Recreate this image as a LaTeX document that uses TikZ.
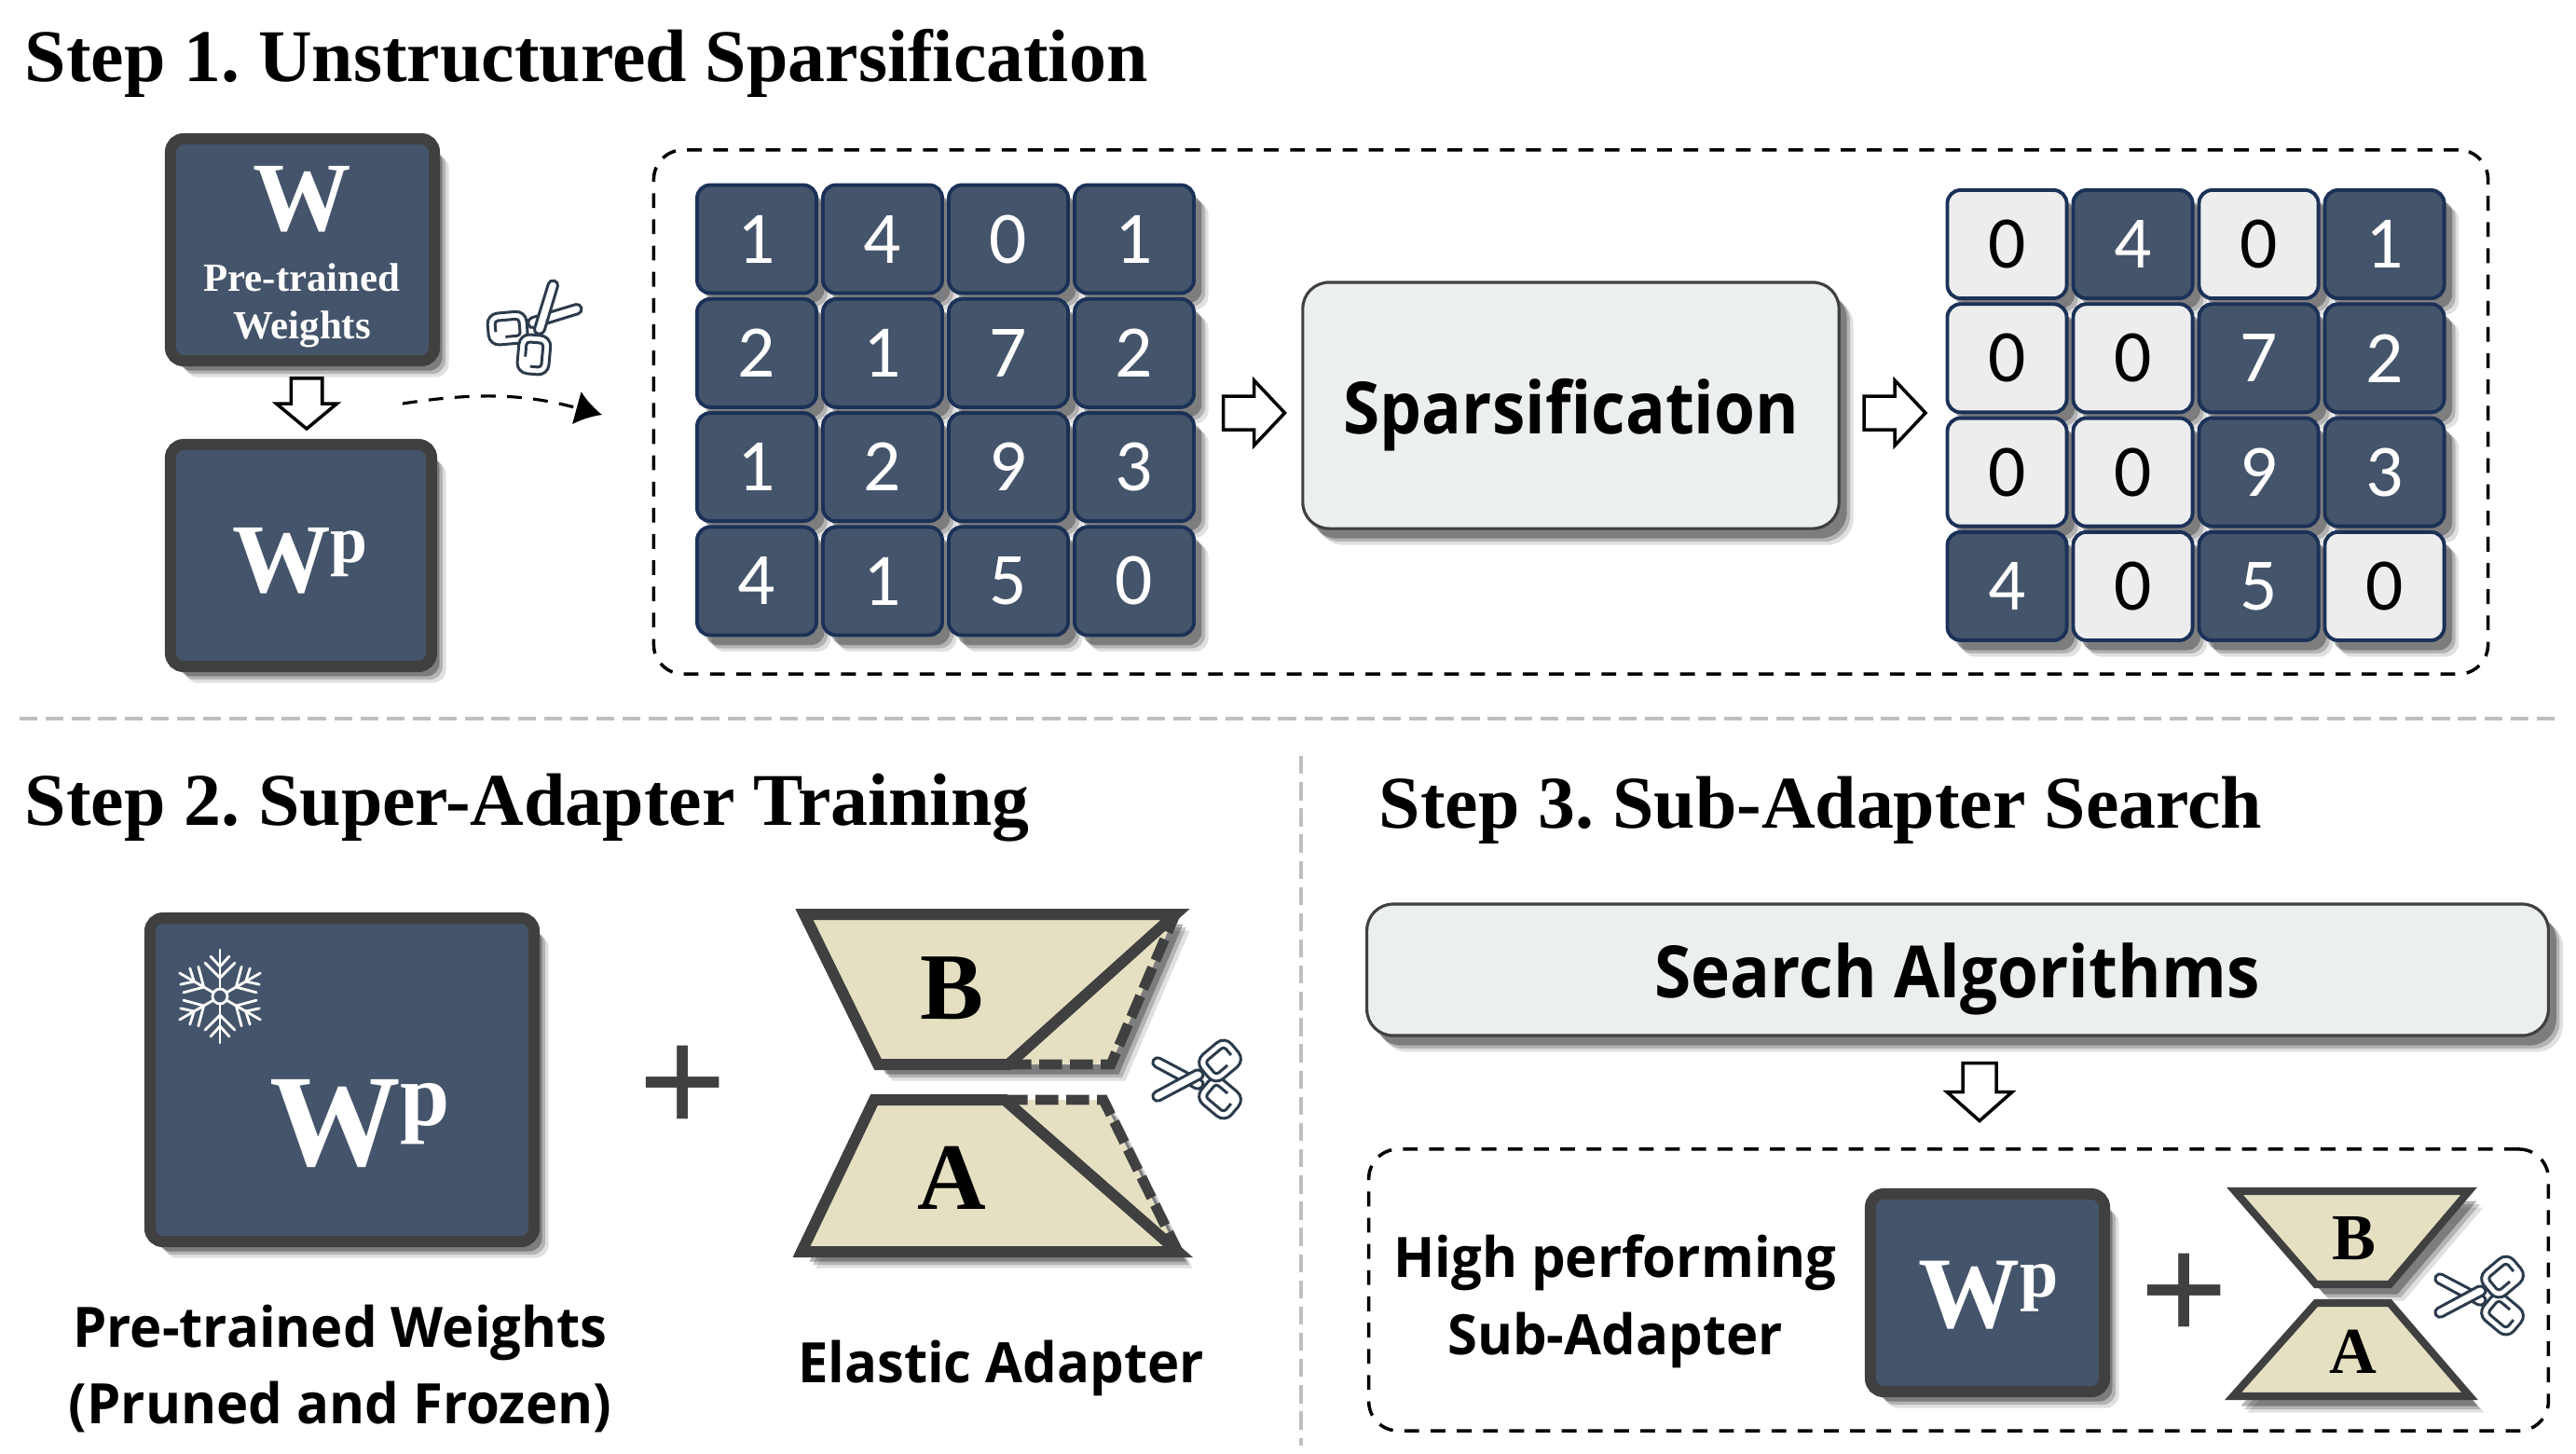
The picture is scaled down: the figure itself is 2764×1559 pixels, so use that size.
\documentclass[tikz,border=0pt]{standalone}
\usepackage{fontspec}
\usepackage{graphicx}
\setmainfont{Liberation Serif}
\newfontfamily\digitfont{Carlito}
\newfontfamily\labelfont[FakeStretch=.97]{Open Sans}
\newfontfamily\panelfont[FakeStretch=.92]{Open Sans}
\frenchspacing
\usetikzlibrary{arrows.meta,positioning,calc,shadows}
\definecolor{slatefill}{HTML}{44546A}
\definecolor{slateedge}{HTML}{1B3157}
\definecolor{boxedge}{HTML}{404040}
\definecolor{lightcell}{HTML}{EDEDED}
\definecolor{panelfill}{HTML}{ECEFF0}
\definecolor{adapterfill}{HTML}{E5E0C2}
\definecolor{iconedge}{HTML}{2C3B4B}
\definecolor{sepgray}{HTML}{BFBFBF}
\newcommand{\wpmark}{W\raisebox{.3em}{\scalebox{.68}{p}}}
\tikzset{
  softshadow/.style={
    drop shadow={shadow xshift=4.4pt, shadow yshift=-5pt, opacity=.12, fill=black},
    drop shadow={shadow xshift=3.4pt, shadow yshift=-4pt, opacity=.2, fill=black},
    drop shadow={shadow xshift=2.4pt, shadow yshift=-3pt, opacity=.3, fill=black},
  },
  weightbox/.style={draw=boxedge, fill=slatefill, line width=3.4pt, rounded corners=4pt, softshadow, inner sep=0pt},
  panelbox/.style={draw=boxedge, fill=panelfill, line width=.9pt, rounded corners=8pt, softshadow, inner sep=0pt},
  cellbase/.style={rounded corners=4pt, line width=1.1pt, draw=slateedge, minimum width=1.28cm, minimum height=1.16cm,
    inner sep=0pt, softshadow, font=\digitfont\fontsize{22.6}{24}\selectfont},
  darkcell/.style={cellbase, fill=slatefill, text=white},
  palecell/.style={cellbase, fill=lightcell, text=black},
  groupbox/.style={draw=black, line width=1pt, rounded corners=9pt, dash pattern=on 4.5pt off 3.5pt},
  sepline/.style={draw=sepgray, line width=1pt, dash pattern=on 5.5pt off 2.5pt},
  steptitle/.style={anchor=base west, inner sep=0pt, font=\bfseries\fontsize{22.7}{26}\selectfont},
  labeltext/.style={anchor=base, inner sep=0pt, font=\labelfont\bfseries\fontsize{17}{20}\selectfont},
  paneltext/.style={anchor=base, inner sep=0pt, font=\panelfont\bfseries\fontsize{22}{26}\selectfont},
  whitetext/.style={anchor=base, inner sep=0pt, text=white, font=\bfseries},
  adaptertext/.style={anchor=base, inner sep=0pt, font=\bfseries},
  plustext/.style={inner sep=0pt, text=boxedge, font=\bfseries\fontsize{48}{50}\selectfont},
  trapfill/.style={fill=adapterfill, softshadow},
  trapline/.style={draw=boxedge, line join=miter},
  iconline/.style={draw=iconedge, fill=white, line width=.85pt, line join=round},
  blockarrow/.pic={
    \draw[draw=black, fill=white, line width=1pt, line join=miter]
      (-33,-18) -- (0,-18) -- (0,-35) -- (33,0) -- (0,35) -- (0,18) -- (-33,18) -- cycle;
  },
  scissorsicon/.pic={
    \foreach \s in {1,-1} {
      \begin{scope}[yscale=\s]
        \draw[iconline, rounded corners=3.2pt, rotate around={-40:(23,20)}] (2,3) rectangle (44,37);
        \draw[iconline, fill=none, rounded corners=1pt, rotate around={-40:(23,20)}] (26,11) -- (10,11) -- (10,29) -- (36,29) -- (36,17);
      \end{scope}
    }
    \foreach \s in {1,-1} {
      \begin{scope}[yscale=\s]
        \draw[iconline, rounded corners=1.4pt] (-51,-16) -- (-46,-25) -- (7,3) -- (1,12) -- cycle;
      \end{scope}
    }
  },
  snowicon/.pic={
    \draw[white, line width=.8pt] (0,0) circle (8);
    \foreach \a in {0,60,...,300} {
      \begin{scope}[rotate=\a, white, line width=.8pt, line cap=round]
        \draw (0,8) -- (0,50);
        \draw (-16,36) -- (0,20) -- (16,36);
        \draw (-10,43) -- (0,32) -- (10,43);
      \end{scope}
    }
  },
}
\begin{document}
\begin{tikzpicture}[x=.01cm, y=-.01cm]
  \useasboundingbox (0,0) rectangle (2764,1559);

  % titles
  \node[steptitle] (title1) at (26,87) {Step 1. Unstructured Sparsification};
  \node[steptitle] (title2) at (26,885) {Step 2. Super-Adapter Training};
  \node[steptitle] (title3) at (1479,888) {Step 3. Sub-Adapter Search};

  % separators
  \coordinate (sepA) at (21,771);
  \coordinate (sepB) at (2747,771);
  \coordinate (sepC) at (1396,811);
  \coordinate (sepD) at (1396,1551);
  \draw[sepline] (sepA) -- (sepB);
  \draw[sepline] (sepC) -- (sepD);

  % step 1, left column
  \node[weightbox, minimum width=2.83cm, minimum height=2.38cm] (Wbox) at (324.5,268) {};
  \node[whitetext, font=\bfseries\fontsize{30}{32}\selectfont] (Wname) at (324,247) {W};
  \node[whitetext, font=\bfseries\fontsize{12.2}{14}\selectfont] (Wtrain) at (324,312) {Pre-trained};
  \node[whitetext, font=\bfseries\fontsize{12.2}{14}\selectfont] (Wweight) at (324,363) {Weights};
  \node[weightbox, minimum width=2.80cm, minimum height=2.38cm] (Wpbox) at (323,596) {};
  \node[whitetext, font=\bfseries\fontsize{30}{32}\selectfont] (Wpname) at (322,635) {\wpmark};
  \pic[rotate=-90, xscale=.82, yscale=.93] (downA) at (329,433) {blockarrow};
  \pic[rotate=-135] (cutA) at (575,350) {scissorsicon};
  \coordinate (cutfrom) at (432,433);
  \coordinate (cutto) at (646,445);
  \draw[draw=black, line width=.9pt, dash pattern=on 4.5pt off 3.5pt, -{Latex[length=8pt,width=10.5pt]}] (cutfrom) to[bend left=12] (cutto);

  % step 1, sparsification group
  \node[groupbox, minimum width=19.67cm, minimum height=5.62cm] (sparsegroup) at (1685.5,442) {};
  \foreach \v [count=\i] in {1,4,0,1,2,1,7,2,1,2,9,3,4,1,5,0} {
    \pgfmathsetmacro{\cx}{812+135*mod(\i-1,4)}
    \pgfmathsetmacro{\cy}{256.5+122.3*floor((\i-1)/4)}
    \node[darkcell] (in\i) at (\cx,\cy) {\v};
  }
  \pic (arrowA) at (1345.5,443) {blockarrow};
  \node[panelbox, minimum width=5.75cm, minimum height=2.64cm] (sparsebox) at (1685.5,435) {};
  \node[paneltext] (sparsetext) at (1686,465) {Sparsification};
  \pic (arrowB) at (2033,443) {blockarrow};
  \foreach \v/\k [count=\i] in {0/palecell,4/darkcell,0/palecell,1/darkcell,0/palecell,0/palecell,7/darkcell,2/darkcell,
      0/palecell,0/palecell,9/darkcell,3/darkcell,4/darkcell,0/palecell,5/darkcell,0/palecell} {
    \pgfmathsetmacro{\cx}{2153.5+135*mod(\i-1,4)}
    \pgfmathsetmacro{\cy}{262+122.3*floor((\i-1)/4)}
    \node[\k] (out\i) at (\cx,\cy) {\v};
  }

  % step 2
  \node[weightbox, minimum width=4.12cm, minimum height=3.47cm] (frozenbox) at (367,1158.5) {};
  \pic (frozen) at (236,1069) {snowicon};
  \node[whitetext, font=\bfseries\fontsize{40}{42}\selectfont] (frozenname) at (386,1250) {\wpmark};
  \node[plustext] (plusA) at (733,1170) {+};
  \path[trapfill] (863,981) -- (1261,981) -- (1192,1142) -- (942,1142) -- cycle;
  \path[trapfill] (938,1180) -- (1184,1180) -- (1264,1343) -- (860,1343) -- cycle;
  \draw[trapline, line width=3.4pt] (1082,1142) -- (942,1142) -- (863,981) -- (1261,981) -- cycle;
  \draw[trapline, line width=3.1pt, dash pattern=on 7pt off 2.4pt] (1082,1142) -- (1192,1142) -- (1261,981);
  \draw[trapline, line width=3.4pt] (1078,1180) -- (938,1180) -- (860,1343) -- (1264,1343) -- cycle;
  \draw[trapline, line width=3.1pt, dash pattern=on 7pt off 2.4pt] (1078,1180) -- (1184,1180) -- (1264,1343);
  \node[adaptertext, font=\bfseries\fontsize{29}{31}\selectfont] (bigB) at (1021,1093) {B};
  \node[adaptertext, font=\bfseries\fontsize{29}{31}\selectfont] (bigA) at (1021,1297) {A};
  \pic (cutB) at (1286,1158) {scissorsicon};
  \node[labeltext] (frozenA) at (365,1445) {Pre-trained Weights};
  \node[labeltext] (frozenB) at (365,1527) {(Pruned and Frozen)};
  \node[labeltext] (elastic) at (1074,1483) {Elastic Adapter};

  % step 3
  \node[panelbox, minimum width=12.67cm, minimum height=1.41cm] (searchbox) at (2100.5,1040.5) {};
  \node[paneltext] (searchtext) at (2100,1070) {Search Algorithms};
  \pic[rotate=-90, xscale=.94, yscale=1] (downB) at (2124,1171.5) {blockarrow};
  \node[groupbox, minimum width=12.65cm, minimum height=3.02cm] (resultgroup) at (2101.5,1384) {};
  \node[labeltext] (resultA) at (1733,1370) {High performing};
  \node[labeltext] (resultB) at (1733,1453) {Sub-Adapter};
  \node[weightbox, minimum width=2.51cm, minimum height=2.12cm] (resultbox) at (2132.5,1387) {};
  \node[whitetext, font=\bfseries\fontsize{31}{33}\selectfont] (resultname) at (2134,1424) {\wpmark};
  \node[plustext] (plusB) at (2344,1393) {+};
  \path[trapfill, draw=boxedge, line width=2.3pt] (2398,1278) -- (2649,1278) -- (2564,1378) -- (2485,1378) -- cycle;
  \path[trapfill, draw=boxedge, line width=2.3pt] (2485,1398) -- (2564,1398) -- (2650,1498) -- (2396,1498) -- cycle;
  \node[adaptertext, font=\bfseries\fontsize{20}{22}\selectfont] (smallB) at (2526,1351) {B};
  \node[adaptertext, font=\bfseries\fontsize{20}{22}\selectfont] (smallA) at (2525,1473) {A};
  \pic (cutC) at (2662,1390) {scissorsicon};
\end{tikzpicture}
\end{document}
